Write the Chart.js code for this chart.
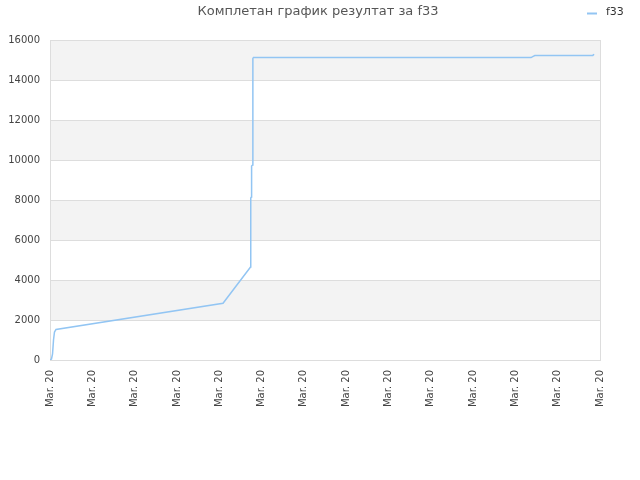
<!DOCTYPE html>
<html>
<head>
<meta charset="utf-8">
<script src="https://cdn.jsdelivr.net/npm/chart.js@4/dist/chart.umd.min.js"></script>
<style>
  html, body { margin: 0; padding: 0; background: #fff; }
  #wrap { width: 640px; height: 480px; }
</style>
</head>
<body>
<div id="wrap"><canvas id="chart"></canvas></div>
<script>
// data
const chartTitle = 'Комплетан график резултат за f33';
const seriesName = 'f33';
const tickLabels = ['Mar. 20', 'Mar. 20', 'Mar. 20', 'Mar. 20', 'Mar. 20', 'Mar. 20', 'Mar. 20',
                    'Mar. 20', 'Mar. 20', 'Mar. 20', 'Mar. 20', 'Mar. 20', 'Mar. 20', 'Mar. 20'];
const xPos = [0, 0.035, 0.06, 0.083, 0.106, 0.142, 4.09, 4.74, 4.745, 4.76, 4.765, 4.79, 4.795, 4.81,
              11.37, 11.42, 11.46, 12.83, 12.86];
const scores = [0, 50, 300, 1000, 1400, 1530, 2840, 4650, 8100, 8150, 9700, 9750, 15080, 15120,
                15120, 15180, 15220, 15230, 15290];

const lineColor = '#92c5f3';
const font = 'DejaVu Sans';

const points = xPos.map((x, i) => ({ x: x, y: scores[i] }));

// grey bands, plot border, title and legend
const decorations = {
    id: 'decorations',
    beforeDatasetsDraw(chart) {
        const { ctx, chartArea: a, scales: { y } } = chart;
        ctx.save();
        ctx.fillStyle = '#f3f3f3';
        for (let v = 2000; v < 16000; v += 4000) {
            const top = y.getPixelForValue(v + 2000);
            const bottom = y.getPixelForValue(v);
            ctx.fillRect(a.left, top, a.right - a.left, bottom - top);
        }
        ctx.strokeStyle = '#dddddd';
        ctx.lineWidth = 1;
        for (let v = 0; v <= 16000; v += 2000) {
            const py = Math.round(y.getPixelForValue(v)) + 0.5;
            ctx.beginPath();
            ctx.moveTo(a.left, py);
            ctx.lineTo(a.right, py);
            ctx.stroke();
        }
        ctx.strokeRect(Math.round(a.left) + 0.5, Math.round(a.top) + 0.5,
                       Math.round(a.right - a.left), Math.round(a.bottom - a.top));
        ctx.restore();
    },
    afterDraw(chart) {
        const ctx = chart.ctx;
        ctx.save();
        ctx.fillStyle = '#555';
        ctx.font = '13px "' + font + '"';
        ctx.textAlign = 'center';
        ctx.textBaseline = 'middle';
        ctx.fillText(chartTitle, 318, 12);

        ctx.strokeStyle = lineColor;
        ctx.lineWidth = 2;
        ctx.beginPath();
        ctx.moveTo(587, 13.5);
        ctx.lineTo(597, 13.5);
        ctx.stroke();
        ctx.fillStyle = '#333';
        ctx.font = '11px "' + font + '"';
        ctx.textAlign = 'left';
        ctx.fillText(seriesName, 606, 12);
        ctx.restore();
    }
};

new Chart(document.getElementById('chart'), {
    type: 'line',
    data: {
        datasets: [{
            label: seriesName,
            data: points,
            borderColor: lineColor,
            borderWidth: 1.5,
            pointRadius: 0,
            tension: 0,
            fill: false
        }]
    },
    options: {
        responsive: true,
        maintainAspectRatio: false,
        animation: false,
        layout: { padding: { top: 40, right: 40, left: 0, bottom: 0 } },
        plugins: {
            legend: { display: false },
            title: { display: false },
            tooltip: { enabled: false }
        },
        scales: {
            x: {
                type: 'linear',
                min: 0,
                max: tickLabels.length - 1,
                grid: { display: false, drawTicks: false },
                border: { display: false },
                afterFit(scale) { scale.height = 120; },
                afterBuildTicks(scale) {
                    scale.ticks = tickLabels.map((t, i) => ({ value: i }));
                },
                ticks: {
                    autoSkip: false,
                    maxRotation: 90,
                    minRotation: 90,
                    padding: 10,
                    color: '#444',
                    font: { family: font, size: 10 },
                    callback: (v, i) => tickLabels[i]
                }
            },
            y: {
                min: 0,
                max: 16000,
                grid: { display: false, drawTicks: false },
                border: { display: false },
                afterFit(scale) { scale.width = 50; },
                ticks: {
                    stepSize: 2000,
                    padding: 10,
                    color: '#444',
                    font: { family: font, size: 10 },
                    callback: v => String(v)
                }
            }
        }
    },
    plugins: [decorations]
});
</script>
</body>
</html>
